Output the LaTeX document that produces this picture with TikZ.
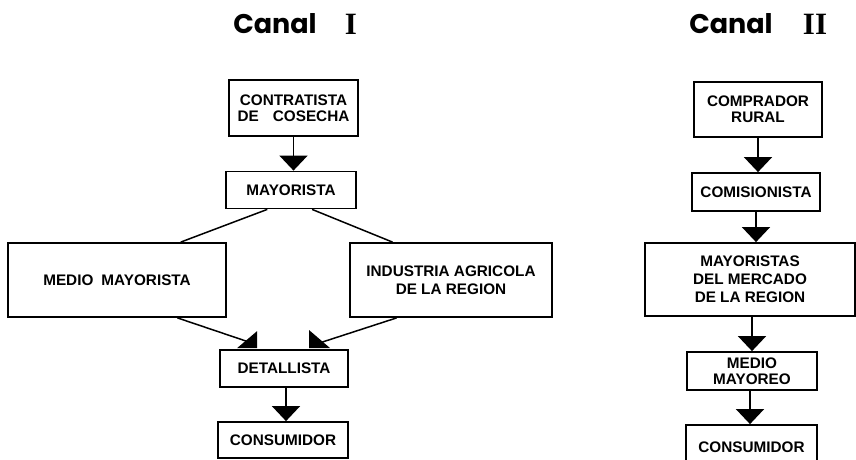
\documentclass[tikz,border=0pt]{standalone}
\usepackage{fontspec}
\setmainfont{Liberation Sans}
\newfontfamily\titlefont{Poppins}
\newfontfamily\numfont{Liberation Serif}
\usetikzlibrary{arrows.meta,calc}
\begin{document}
\begin{tikzpicture}[x=1pt,y=-1pt,
  box/.style={draw,line width=1.8pt,inner sep=0pt,align=center,font=\fontsize{15.3}{16}\selectfont\bfseries},
  arr/.style={line width=1.6pt,-{Triangle[width=28pt,length=15pt]}},
  link/.style={line width=1.5pt},
  ttl/.style={inner sep=0pt,font=\titlefont\fontsize{27}{30}\selectfont\bfseries},
  num/.style={inner sep=0pt,font=\numfont\fontsize{31}{32}\selectfont\bfseries}]
\useasboundingbox (0,0) rectangle (856,460);
% titles
\node[ttl] (t1) at (275,24) {Canal};
\node[num] (n1) at (351,24) {I};
\node[ttl] (t2) at (731,24) {Canal};
\node[num] (n2) at (815,24) {II};
% Canal I
\node[box,minimum width=129pt,minimum height=56pt] (cc) at (293.5,108) {CONTRATISTA\\DE\hspace{14pt}COSECHA};
\node[box,minimum width=130pt,minimum height=37pt] (may) at (291,190) {MAYORISTA};
\node[box,minimum width=218pt,minimum height=74pt] (mm) at (117,280) {MEDIO\hspace{8pt}MAYORISTA};
\node[box,minimum width=202pt,minimum height=74pt,font=\fontsize{15.3}{18}\selectfont\bfseries] (ind) at (451,280) {INDUSTRIA AGRICOLA\\DE LA REGION};
\node[box,minimum width=128pt,minimum height=37pt] (det) at (284,368.5) {DETALLISTA};
\node[box,minimum width=130pt,minimum height=36pt] (cons1) at (283,440) {CONSUMIDOR};
\draw[arr] (cc.south) -- (cc.south |- may.north);
\draw[link] ($(may.south west)!0.32!(may.south east)$) -- ($(mm.north west)!0.79!(mm.north east)$);
\draw[link] ($(may.south west)!0.66!(may.south east)$) -- ($(ind.north west)!0.213!(ind.north east)$);
\draw[link] ($(mm.south west)!0.775!(mm.south east)$) -- ($(det.north west)+(30,-7)$);
\draw[link] ($(ind.south west)!0.233!(ind.south east)$) -- ($(det.north west)+(100,-6)$);
\fill ($(det.north west)+(18,-1)$) -- ($(det.north west)+(38,-18)$) -- ($(det.north west)+(38,-1)$) -- cycle;
\fill ($(det.north west)+(90,-19)$) -- ($(det.north west)+(90,-1)$) -- ($(det.north west)+(111,-1)$) -- cycle;
\draw[arr] ($(det.south)+(2,0)$) -- ($(det.south |- cons1.north)+(2,0)$);
% Canal II
\node[box,minimum width=128pt,minimum height=55pt] (cr) at (758,109.5) {COMPRADOR\\RURAL};
\node[box,minimum width=128pt,minimum height=38pt] (com) at (756,192) {COMISIONISTA};
\node[box,minimum width=210pt,minimum height=73pt,font=\fontsize{15.3}{18}\selectfont\bfseries] (mdr) at (750,279.5) {MAYORISTAS\\DEL MERCADO\\DE LA REGION};
\node[box,minimum width=130pt,minimum height=38pt] (mmy) at (752,371) {MEDIO\\MAYOREO};
\node[box,minimum width=131pt,minimum height=44pt] (cons2) at (751.5,447) {CONSUMIDOR};
\draw[arr] (cr.south) -- (cr.south |- com.north);
\draw[arr] (com.south) -- (com.south |- mdr.north);
\draw[arr] ($(mdr.south)+(2,0)$) -- ($(mdr.south |- mmy.north)+(2,0)$);
\draw[arr] ($(mmy.south)+(-2,0)$) -- ($(mmy.south |- cons2.north)+(-2,0)$);
\end{tikzpicture}
\end{document}
